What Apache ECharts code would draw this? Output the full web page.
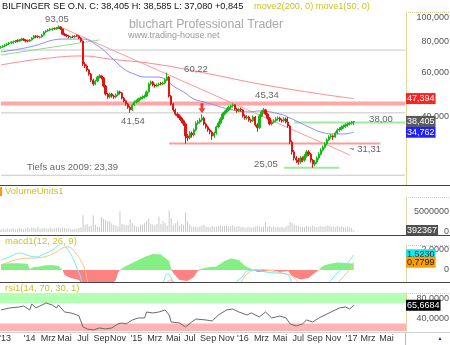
<!DOCTYPE html>
<html>
<head>
<meta charset="utf-8">
<script src="https://cdn.jsdelivr.net/npm/echarts@6.0.0/dist/echarts.min.js"></script>
<style>
html,body{margin:0;padding:0;background:#fff;overflow:hidden}
#chart{width:450px;height:345px}
</style>
</head>
<body>
<div id="chart"></div>
<script>
// ================= DATA (weekly candles, Oct 2013 - Jan 2017) =================
const tickIdx  = [2,14,23,31,40,49,57,66,75,84,92,101,110,118,127,136,145,153,162,171,179,188];
const tickText = ["'13","'14","Mrz","Mai","Jul","Sep","Nov","'15","Mrz","Mai","Jul","Sep","Nov","'16","Mrz","Mai","Jul","Sep","Nov","'17","Mrz","Mai"];

const open = [75.8,76.2,76.9,77.6,78.4,79.1,79.3,79.8,81.0,80.5,
81.3,82.0,81.3,80.9,80.5,81.3,82.8,84.3,84.0,83.2,
83.6,85.1,87.5,88.3,89.1,89.5,90.4,90.0,90.8,91.6,
90.0,85.9,85.1,84.3,83.1,84.0,83.6,84.8,84.3,82.8,
80.5,65.2,64.0,61.7,59.4,56.2,54.2,55.7,57.8,58.4,
57.3,53.2,49.4,48.1,49.4,48.5,48.1,49.0,50.4,49.9,
47.6,46.4,45.1,43.8,42.7,44.7,45.9,46.4,47.2,47.6,
48.1,48.5,50.4,54.2,55.2,53.7,53.2,53.7,54.6,54.2,
54.7,56.2,57.8,48.5,45.1,42.7,41.1,40.4,39.6,38.6,
37.5,33.6,33.0,34.5,33.9,35.5,37.8,38.2,38.9,39.6,
37.5,36.5,35.5,34.8,33.6,34.5,36.5,37.8,39.3,41.1,
41.9,42.7,43.8,44.3,44.7,43.0,42.3,43.0,42.7,40.4,
39.6,40.0,38.9,38.6,40.0,37.2,36.2,40.4,41.9,42.7,
41.1,39.6,37.5,38.2,38.6,39.3,39.6,38.9,38.6,39.3,
38.2,36.8,31.8,29.0,27.4,26.9,26.4,27.4,26.9,27.9,
29.0,28.4,26.9,25.9,26.4,27.4,28.4,29.5,30.3,31.2,
32.4,33.3,33.6,33.3,34.5,35.5,35.8,36.5,36.8,37.2,
37.5,37.8,38.2];
const close = [76.2,76.9,77.6,78.4,79.1,79.8,79.8,80.5,80.5,81.3,
82.0,81.3,80.5,80.5,81.3,82.8,84.3,83.6,83.6,83.6,
85.1,87.5,88.3,89.1,90.0,90.0,90.0,90.8,91.6,90.0,
85.9,85.1,84.3,83.6,83.6,83.6,84.3,84.3,82.8,80.5,
65.2,64.0,61.7,59.4,56.2,54.2,55.7,57.8,58.4,57.3,
53.2,49.4,48.1,49.4,48.5,48.1,49.0,50.4,49.9,47.6,
46.4,45.1,43.8,42.7,44.7,45.9,46.4,47.2,47.6,48.1,
48.5,50.4,54.2,55.2,53.7,53.2,53.7,54.2,54.2,54.7,
56.2,57.8,48.5,45.1,42.7,41.1,40.4,39.6,38.6,37.5,
33.6,33.0,34.5,33.9,35.5,37.8,38.2,38.9,39.6,37.5,
36.5,35.5,34.8,33.6,34.5,36.5,37.8,39.3,41.1,41.9,
42.7,43.8,44.3,44.7,43.0,42.3,43.0,42.7,40.4,39.6,
40.0,38.9,38.6,40.0,37.2,36.2,40.4,41.9,42.7,41.1,
39.6,37.5,38.2,38.6,39.3,39.6,38.9,38.6,39.3,38.2,
36.8,31.8,29.0,27.4,26.9,26.4,27.4,26.9,27.9,29.0,
28.4,26.9,25.9,26.4,27.4,28.4,29.5,30.3,31.2,32.4,
33.3,33.6,33.3,34.5,35.5,35.8,36.5,36.8,37.2,37.5,
37.8,38.2,38.405];
const low = [75.0,75.6,76.1,76.9,77.6,78.3,78.4,79.0,79.6,79.8,
80.6,80.5,79.4,79.5,79.8,80.8,82.0,82.6,82.7,82.3,
83.0,84.6,86.8,87.6,88.3,88.6,89.0,89.3,90.0,89.2,
85.0,84.2,83.4,82.7,82.3,82.8,82.9,83.5,82.0,79.6,
64.0,62.8,60.8,58.5,55.3,53.3,53.6,55.1,57.0,56.5,
52.5,48.7,47.3,47.5,47.8,47.2,47.5,48.5,49.2,47.0,
45.7,44.4,43.1,41.54,42.3,44.2,45.3,45.8,46.6,47.0,
47.4,48.0,50.0,53.5,53.0,52.4,52.6,53.0,53.5,53.6,
54.1,55.6,47.8,44.4,42.0,40.5,39.7,38.9,37.9,36.8,
31.31,32.0,32.5,33.1,33.4,35.0,37.2,37.6,38.3,37.0,
35.9,34.9,34.1,32.4,33.0,34.0,36.0,37.3,38.8,40.5,
41.3,42.1,43.1,43.6,42.5,41.6,41.8,42.0,39.8,39.0,
39.0,38.3,37.9,38.2,36.6,34.9,35.8,40.0,41.3,40.6,
39.0,37.0,37.0,37.7,38.1,38.7,38.3,38.0,38.1,37.7,
36.2,31.1,28.3,26.8,26.2,25.8,26.0,26.4,26.5,27.5,
27.9,26.3,25.05,25.4,26.0,27.0,28.0,29.1,29.9,30.8,
32.0,32.8,32.4,33.0,34.1,35.0,35.3,35.9,36.2,36.6,
37.0,37.3,37.08];
const high = [76.9,77.5,78.3,79.0,79.9,80.6,80.8,81.3,81.8,82.0,
82.9,82.8,81.9,81.6,82.1,83.5,85.2,85.0,84.9,84.5,
85.9,88.2,89.2,90.0,90.9,91.0,91.2,91.7,93.05,92.4,
90.5,86.8,85.9,85.0,84.4,84.8,85.1,85.6,85.0,83.4,
81.0,66.4,64.8,62.3,60.0,56.9,56.4,58.5,59.3,59.0,
57.8,53.7,50.0,50.1,50.0,49.1,49.7,51.1,51.0,50.3,
48.1,46.9,45.6,44.3,45.3,46.6,47.0,47.8,48.3,48.8,
49.2,51.1,54.9,56.0,55.8,54.4,54.4,54.9,55.2,55.4,
56.9,60.22,58.3,49.0,45.6,43.2,41.8,41.0,40.1,39.1,
38.0,34.2,35.1,35.0,36.0,38.4,38.9,39.6,41.0,40.1,
38.0,37.0,36.0,35.3,35.0,37.0,38.4,39.9,41.7,42.5,
43.3,44.4,44.9,45.34,45.0,43.6,43.6,43.6,43.0,41.0,
40.7,40.5,39.4,40.6,40.4,37.8,41.0,42.5,43.5,43.1,
41.6,40.0,38.8,39.2,39.9,40.2,40.1,39.4,39.9,39.8,
40.0,37.2,32.2,29.5,27.9,27.4,27.9,27.8,28.4,29.5,
29.5,28.8,27.2,26.9,27.8,28.9,30.0,30.8,31.7,32.9,
33.8,34.2,34.0,35.0,36.0,36.4,37.0,37.3,37.7,38.0,
38.3,38.6,38.585];
const volumeMio = [0.7,0.8,0.6,0.9,0.7,0.8,0.9,0.7,0.8,1.0,
0.8,0.7,0.9,1.1,0.8,1.2,1.0,0.9,1.3,0.8,
0.9,1.0,0.8,0.9,1.1,0.8,0.9,1.0,1.2,0.9,
1.1,1.0,0.8,0.9,0.8,0.7,0.9,0.8,1.0,1.1,
4.2,1.8,2.0,1.5,1.6,4.2,1.8,1.4,1.2,3.7,
3.3,3.0,2.7,2.7,2.2,1.8,1.6,1.4,5.2,2.0,
1.9,1.7,1.8,3.1,2.2,1.6,1.4,1.2,1.8,1.9,
2.2,2.7,3.3,2.0,1.8,1.6,2.0,3.9,2.0,2.7,
2.2,1.6,5.4,3.5,1.9,2.2,2.7,1.6,2.0,1.8,
4.9,2.7,1.8,1.4,1.3,1.3,1.2,1.4,1.6,1.8,
1.4,1.3,1.2,1.5,1.3,1.4,1.5,1.6,1.4,1.5,
1.6,1.4,1.5,1.7,1.3,1.4,1.5,1.2,1.3,1.1,
1.2,1.3,1.1,1.2,1.4,1.6,1.3,1.2,1.4,2.5,
1.3,1.5,1.2,1.4,1.1,1.3,1.2,1.3,1.1,1.4,
1.7,2.5,2.3,1.9,1.6,1.5,1.3,1.4,1.2,1.5,
1.3,1.4,1.6,1.3,1.2,1.4,1.5,1.3,1.4,1.6,
1.5,1.3,1.4,1.2,1.5,1.3,1.4,1.2,1.1,1.3,
1.2,1.0,0.392367];

// moving averages (week index / price)
const ma50Idx = [0,14,30,40,48,53,60,65,70,75,80,84,89,94,99,104,111,121,126,136,141,145,150,156,162,167,172];
const ma50Val = [72.8,76.2,82.0,82.0,76.2,70.2,62.2,59.4,57.8,57.8,56.8,53.2,50.4,47.2,45.9,44.7,43.0,41.9,42.3,41.1,39.6,38.2,36.5,34.8,34.2,34.2,34.762];
const ma200Idx = [0,19,40,53,75,102,126,156,172];
const ma200Val = [64.6,68.2,70.2,68.2,65.2,59.4,54.2,49.4,47.394];

// drawn levels and trend lines
const greyLevels = [74.1, 41.54, 23.39];
const bandLevel = 45.34;
const level3131 = 31.31, level3131Span = [82, 185];
const level3800 = 38.00, level3800Span = [143, 197];
const level2505 = 25.05, level2505Span = [138, 165];
const trendRedIdx = [30, 170],  trendRedVal = [90.8, 28.2];
const trendGreenIdx = [0, 48],  trendGreenVal = [70.8, 81.3];
const arrowIdx = [98], arrowVal = [43.4];

// MACD (12,26,9)
const histIdx = [0,4,9,13,14,16,19,21,25,28,30,31,34,38,40,48,53,56,57,58,60,65,70,74,78,80,82,83,84,87,91,94,96,97,102,105,109,112,116,119,121,123,125,129,132,136,140,142,146,150,153,155,157,160,164,168,172];
const histVal = [0.6,0.67,0.67,0.6,0.1,0.3,0.35,0.45,0.5,0.4,0,-0.5,-0.8,-1.0,-1.6,-1.8,-1.6,-1.0,-0.3,0,0.3,0.8,1.3,1.6,1.55,1.2,0.9,0.1,-0.3,-1.0,-1.1,-0.7,-0.1,0.1,0.3,0.35,0.9,1.15,1.0,0.4,0.2,0.05,-0.2,-0.15,0.05,-0.2,-0.1,-0.6,-0.95,-0.8,-0.3,0,0.4,0.6,0.75,0.7,0.65];
const macdIdx = [0,4,9,14,17,21,25,28,30,32,35,37,39,40,48,63,75,79,81,83,86,97,109,117,120,124,129,134,139,141,143,151,158,161,165,169,172];
const macdVal = [1.0,1.3,1.7,1.4,1.3,1.6,2.0,2.5,2.6,2.2,1.2,0.2,-0.8,-2.0,-3.5,-3.5,-2.0,-1.2,-0.4,-0.8,-2.5,-3.0,-2.0,-0.8,-0.1,0.0,-0.2,-0.3,-0.4,-0.8,-2.0,-3.0,-1.8,-1.0,-0.1,0.7,1.523];
const signalIdx = [0,4,9,16,21,26,30,33,36,39,41,42,44,48,68,80,82,85,87,102,114,119,122,127,132,137,142,146,153,162,165,169,172];
const signalVal = [0.5,0.8,1.1,1.2,1.3,1.7,2.2,2.3,1.8,0.9,0.0,-1.0,-2.0,-3.0,-3.5,-1.9,-1.0,-1.3,-2.5,-3.0,-2.0,-0.6,-0.1,0.05,-0.1,-0.3,-0.6,-1.5,-3.0,-2.0,-1.1,-0.2,0.7799];

// RSI (14)
const rsiIdx = [0,4,9,11,14,15,17,20,22,25,27,28,31,34,37,38,40,42,45,48,51,54,57,59,61,64,67,70,71,74,77,80,82,83,87,90,93,95,100,103,106,110,113,116,120,122,126,129,132,136,139,141,144,147,149,152,155,159,161,165,168,170,172];
const rsiVal = [56.5,60.4,62.4,64.4,56.5,68.3,60.4,66.3,70.3,66.3,60.4,66.3,52.5,50.6,46.6,44.6,22.9,19.0,17.0,21.0,19.0,21.0,28.9,30.8,28.9,36.7,40.7,40.7,52.5,50.6,52.5,56.5,46.6,32.8,30.8,22.9,32.8,38.7,36.7,34.8,46.6,56.5,58.4,52.5,46.6,50.6,42.7,52.5,40.7,44.6,40.7,28.9,24.9,28.9,36.7,32.8,40.7,48.6,52.5,60.4,62.4,58.4,65.6684];

// axis ticks
const priceTicks = [100, 80, 60, 40];
const volumeTicks = [5000000, 0];
const macdTicks = [2, 0];
const rsiTicks = [80, 40];
const rsiBands = [70, 30];

// ================= BUILD =================
const N_CATS = 198;
const cats = Array.from({length: N_CATS}, () => '');
tickIdx.forEach((k, j) => { cats[k] = tickText[j]; });
const pairs = (idx, val) => idx.map((k, j) => [k, val[j]]);
const fmtDE = (v, d) => v.toFixed(d).replace('.', ',');
const FONT = '"Liberation Sans", Arial, sans-serif';

const priceMin = 21.38, priceMax = 105.2;
const lastI = close.length - 1;
const lastVol = Math.round(volumeMio[lastI] * 1e6);

const grids = [
  {left: 0, right: 44, top: 12,  height: 173, outerBoundsMode: 'none'},
  {left: 0, right: 44, top: 197, height: 35,  outerBoundsMode: 'none'},
  {left: 0, right: 44, top: 245, height: 37,  outerBoundsMode: 'none'},
  {left: 0, right: 44, top: 293, height: 38,  outerBoundsMode: 'none'}
];

const tan = {show: true, lineStyle: {color: '#e3c98f', type: 'dotted', width: 1}};

function tickAxis(grid, type, min, max, vals, fmt, withLine, extra) {
  return Object.assign({
    gridIndex: grid, type, min, max, position: 'right',
    axisLine: withLine ? tan : {show: false},
    axisTick: {show: false}, splitLine: {show: false},
    axisLabel: vals ? {customValues: vals, formatter: fmt, align: 'right', margin: 43, hideOverlap: false,
      fontSize: 9, color: '#555', fontFamily: FONT} : {show: false}
  }, extra || {});
}
// one helper axis per value box, so boxes never get hidden as overlapping labels
function boxAxis(grid, min, max, val, text, bg, fg, z) {
  return {
    gridIndex: grid, type: 'value', min, max, position: 'right', z: z || 6,
    axisLine: {show: false}, axisTick: {show: false}, splitLine: {show: false},
    axisLabel: {customValues: [val], margin: 0, align: 'left', hideOverlap: false,
      formatter: () => text, backgroundColor: bg, color: fg, fontSize: 9, fontFamily: FONT,
      padding: [1, 1, 0, 1], lineHeight: 10}
  };
}

const lgMin = Math.log10(priceMin), lgMax = Math.log10(priceMax);
const ma200Last = ma200Val[ma200Val.length - 1], ma50Last = ma50Val[ma50Val.length - 1];
const macdLast = macdVal[macdVal.length - 1], signalLast = signalVal[signalVal.length - 1];
const rsiLast = rsiVal[rsiVal.length - 1];

const yAxes = [
  tickAxis(0, 'log', priceMin, priceMax, null, null, true, {logBase: 10}),
  tickAxis(0, 'value', lgMin, lgMax, priceTicks.map(Math.log10), v => fmtDE(Math.pow(10, v), 3), false),
  boxAxis(0, lgMin, lgMax, Math.log10(ma200Last), fmtDE(ma200Last, 3), '#ff2020', '#fff'),
  boxAxis(0, lgMin, lgMax, Math.log10(close[lastI]), fmtDE(close[lastI], 3), '#5a5a5a', '#fff'),
  boxAxis(0, lgMin, lgMax, Math.log10(ma50Last), fmtDE(ma50Last, 3), '#2020ff', '#fff'),
  tickAxis(1, 'value', 0, 8.75e6, volumeTicks, v => String(v), true),
  boxAxis(1, 0, 8.75e6, lastVol, String(lastVol), '#505050', '#fff'),
  tickAxis(2, 'value', -1.2, 2.5, macdTicks, v => (v === 0 ? '0' : fmtDE(v, 4)), true),
  boxAxis(2, -1.2, 2.5, macdLast, fmtDE(macdLast, 4), '#10e8f0', '#222', 6),
  boxAxis(2, -1.2, 2.5, signalLast, fmtDE(signalLast, 4), '#ff9c00', '#222', 7),
  tickAxis(3, 'value', 15, 90, rsiTicks, v => fmtDE(v, 4), true),
  boxAxis(3, 15, 90, rsiLast, fmtDE(rsiLast, 4), '#000', '#fff')
];
const Y = {price: 0, vol: 5, macd: 7, rsi: 10};

const xAxes = [0, 1, 2, 3].map(g => ({
  type: 'category', gridIndex: g, data: cats, boundaryGap: true,
  axisLine: {show: false}, axisTick: {show: false}, splitLine: {show: false},
  axisLabel: {show: g === 3, interval: 0, fontSize: 9, color: '#333', margin: 3, fontFamily: FONT}
}));

function hLine(v, span, color, width) {
  return {type: 'line', xAxisIndex: 0, yAxisIndex: Y.price, data: [[span[0], v], [span[1], v]],
    symbol: 'none', silent: true, z: 1, lineStyle: {color, width}};
}

const series = [];
series.push(hLine(bandLevel, [0, N_CATS - 1], '#ffa6a6', 4));
greyLevels.forEach(v => series.push(hLine(v, [0, N_CATS - 1], '#c6c6c6', 1)));
series.push(hLine(level3131, level3131Span, '#ff9a9a', 2));
series.push(hLine(level3800, level3800Span, '#9fe89f', 2));
series.push(hLine(level2505, level2505Span, '#9fe89f', 2));
series.push({type: 'line', xAxisIndex: 0, yAxisIndex: Y.price, data: pairs(trendRedIdx, trendRedVal),
  symbol: 'none', silent: true, z: 2, lineStyle: {color: '#ff9a9a', width: 1}});
series.push({type: 'line', xAxisIndex: 0, yAxisIndex: Y.price, data: pairs(trendGreenIdx, trendGreenVal),
  symbol: 'none', silent: true, z: 2, lineStyle: {color: '#8fdc8f', width: 1}});
series.push({type: 'line', xAxisIndex: 0, yAxisIndex: Y.price, data: pairs(ma200Idx, ma200Val),
  symbol: 'none', smooth: 0.4, silent: true, z: 2, lineStyle: {color: '#ff8c8c', width: 1}});
series.push({type: 'line', xAxisIndex: 0, yAxisIndex: Y.price, data: pairs(ma50Idx, ma50Val),
  symbol: 'none', smooth: 0.4, silent: true, z: 2, lineStyle: {color: '#8c8cff', width: 1}});
series.push({type: 'candlestick', xAxisIndex: 0, yAxisIndex: Y.price, barWidth: 1.8, z: 3,
  data: close.map((c, i) => [open[i], c, low[i], high[i]]),
  itemStyle: {color: '#16b816', color0: '#e01414', borderColor: '#16b816', borderColor0: '#e01414', borderWidth: 1}});
series.push({type: 'scatter', xAxisIndex: 0, yAxisIndex: Y.price, data: pairs(arrowIdx, arrowVal), z: 4,
  symbol: 'path://M2,0 L5,0 L5,5 L7,5 L3.5,10 L0,5 L2,5 Z', symbolSize: [7, 10],
  itemStyle: {color: '#ee1111'}, silent: true});
// volume
series.push({type: 'bar', xAxisIndex: 1, yAxisIndex: Y.vol, barWidth: 1, silent: true,
  data: volumeMio.map(v => v * 1e6), itemStyle: {color: '#c9c9c9'}});
// macd histogram: positive and negative parts as filled areas down to zero
const histPairs = pairs(histIdx, histVal);
series.push({type: 'line', xAxisIndex: 2, yAxisIndex: Y.macd, data: histPairs.map(p => [p[0], Math.max(p[1], 0)]),
  symbol: 'none', silent: true, z: 1, lineStyle: {width: 0}, areaStyle: {color: '#84f084', opacity: 1}});
series.push({type: 'line', xAxisIndex: 2, yAxisIndex: Y.macd, data: histPairs.map(p => [p[0], Math.min(p[1], 0)]),
  symbol: 'none', silent: true, z: 1, lineStyle: {width: 0}, areaStyle: {color: '#ff8282', opacity: 1}});
series.push({type: 'line', xAxisIndex: 2, yAxisIndex: Y.macd, data: pairs(signalIdx, signalVal),
  symbol: 'none', smooth: 0.4, silent: true, z: 2, lineStyle: {color: '#ffbf80', width: 1}});
series.push({type: 'line', xAxisIndex: 2, yAxisIndex: Y.macd, data: pairs(macdIdx, macdVal),
  symbol: 'none', smooth: 0.4, silent: true, z: 2, lineStyle: {color: '#70e8ff', width: 1}});
// rsi
series.push({type: 'line', xAxisIndex: 3, yAxisIndex: Y.rsi, data: pairs(rsiIdx, rsiVal),
  symbol: 'none', silent: true, z: 3, lineStyle: {color: '#6a6a6a', width: 1},
  markArea: {silent: true, data: [
    [{yAxis: rsiBands[0], itemStyle: {color: '#b3ffb3'}}, {yAxis: 90}],
    [{yAxis: 15, itemStyle: {color: '#ffb3b3'}}, {yAxis: rsiBands[1]}]
  ]}});

// ---------- decorative graphics ----------
function gText(text, x, y, size, fill, align) {
  return {type: 'text', x, y, silent: true, z: 50,
    style: {text, fill, font: size + 'px ' + FONT, textAlign: align || 'left', textVerticalAlign: 'middle'}};
}
function gLine(x1, y1, x2, y2, stroke, dash) {
  return {type: 'line', silent: true, z: 60, shape: {x1, y1, x2, y2},
    style: {stroke, lineWidth: 1, lineDash: dash || null}};
}
const yellow = '#c8c428';
const grey = '#666';
const graphics = [
  gText('BILFINGER SE O.N. C: 38,405 H: 38,585 L: 37,080 +0,845', 2, 6, 9.2, '#111'),
  gText('move2(200, 0) move1(50, 0)', 254, 6, 9.2, yellow),
  gText('bluchart Professional Trader', 129, 25, 12.3, '#a8a8a8'),
  gText('www.trading-house.net', 128, 36, 9, '#999'),
  gText('93,05', 57, 19, 9.5, grey, 'center'),
  gText('60,22', 196, 69, 9.5, grey, 'center'),
  gText('41,54', 133, 121, 9.5, grey, 'center'),
  gText('45,34', 267, 95, 9.5, grey, 'center'),
  gText('38,00', 381, 119, 9.5, grey, 'center'),
  gText('~ 31,31', 365, 149, 9.5, grey, 'center'),
  gText('25,05', 266, 164, 9.5, grey, 'center'),
  gText('Tiefs aus 2009: 23,39', 27, 167, 9.5, grey),
  gText('VolumeUnits1', 5, 191, 9.5, yellow),
  gText('macd1(12, 26, 9)', 5, 241, 9.5, yellow),
  gText('rsi1(14, 70, 30, 1)', 5, 288, 9.5, yellow),
  {type: 'rect', silent: true, z: 60, shape: {x: 0, y: 187, width: 2, height: 9}, style: {fill: '#ff9a00'}},
  gLine(0, 185.5, 450, 185.5, '#444'),
  gLine(0, 235.5, 450, 235.5, '#444'),
  gLine(0, 282.5, 450, 282.5, '#444'),
  gLine(0, 332.5, 450, 332.5, '#d0d0d0'),
  gLine(406, 12.5, 450, 12.5, '#e3c98f', [1, 1]),
  gLine(406, 197.5, 450, 197.5, '#e3c98f', [1, 1]),
  gLine(406, 245.5, 450, 245.5, '#e3c98f', [1, 1]),
  gLine(406, 293.5, 450, 293.5, '#e3c98f', [1, 1]),
  gLine(405.5, 333, 405.5, 345, '#bbb'),
  gText('\u25B2', 440, 339, 5, '#1a2a8a', 'center')
];

const chart = echarts.init(document.getElementById('chart'), null, {renderer: 'canvas', width: 450, height: 345});
chart.setOption({
  animation: false,
  backgroundColor: '#fff',
  textStyle: {fontFamily: FONT},
  grid: grids,
  xAxis: xAxes,
  yAxis: yAxes,
  series,
  graphic: {elements: graphics}
});
</script>
</body>
</html>
